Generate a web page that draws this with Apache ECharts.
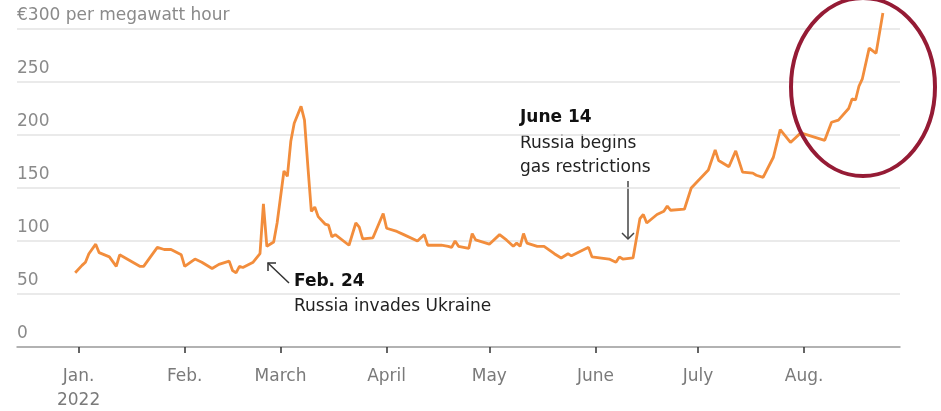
<!DOCTYPE html>
<html>
<head>
<meta charset="utf-8">
<script src="https://cdn.jsdelivr.net/npm/echarts@6/dist/echarts.min.js"></script>
<style>html,body{margin:0;padding:0;background:#fff}#c{width:941px;height:411px}</style>
</head>
<body>
<div id="c"></div>
<script>
var dates = ['2021-12-31','2022-01-02','2022-01-03','2022-01-04','2022-01-06','2022-01-07','2022-01-10','2022-01-12','2022-01-13','2022-01-19','2022-01-20','2022-01-24','2022-01-26','2022-01-28','2022-01-31',
'2022-02-01','2022-02-04','2022-02-06','2022-02-09','2022-02-11','2022-02-14','2022-02-15','2022-02-16','2022-02-17','2022-02-18','2022-02-21','2022-02-23','2022-02-24','2022-02-25','2022-02-27','2022-02-28',
'2022-03-02','2022-03-03','2022-03-04','2022-03-05','2022-03-07','2022-03-08','2022-03-09','2022-03-10','2022-03-11','2022-03-12','2022-03-14','2022-03-15','2022-03-16','2022-03-17','2022-03-21','2022-03-23','2022-03-24','2022-03-25','2022-03-28','2022-03-31',
'2022-04-01','2022-04-04','2022-04-06','2022-04-10','2022-04-12','2022-04-13','2022-04-17','2022-04-19','2022-04-20','2022-04-21','2022-04-22','2022-04-25','2022-04-26','2022-04-27',
'2022-05-01','2022-05-04','2022-05-06','2022-05-08','2022-05-09','2022-05-10','2022-05-11','2022-05-12','2022-05-15','2022-05-17','2022-05-20','2022-05-22','2022-05-24','2022-05-25','2022-05-30','2022-05-31',
'2022-06-05','2022-06-07','2022-06-08','2022-06-09','2022-06-12','2022-06-14','2022-06-15','2022-06-16','2022-06-19','2022-06-21','2022-06-22','2022-06-23','2022-06-27','2022-06-29',
'2022-07-04','2022-07-06','2022-07-07','2022-07-10','2022-07-12','2022-07-14','2022-07-17','2022-07-18','2022-07-20','2022-07-23','2022-07-25','2022-07-28','2022-07-31',
'2022-08-07','2022-08-09','2022-08-11','2022-08-14','2022-08-15','2022-08-16','2022-08-17','2022-08-18','2022-08-20','2022-08-22','2022-08-24'];
var prices = [70,77,80,88,97,89,85,76,87,76,76,94,92,92,87,
76,83,80,74,78,81,72,70,76,75,80,88,135,95,99,117,
166,161,194,211,227,214,170,128,132,123,116,115,104,106,96,117,113,102,103,126,
112,109,106,100,106,96,96,95,94,100,95,93,107,101,
97,106,101,95,98,95,107,98,95,95,88,84,88,86,94,85,
83,80,85,83,84,121,125,117,125,128,133,129,130,150,
167,186,176,170,185,165,164,162,160,179,205,193,202,
195,212,214,225,234,233,246,253,282,277,315];
var monthTicks = ['2022-01-01','2022-02-01','2022-03-01','2022-04-01','2022-05-01','2022-06-01','2022-07-01','2022-08-01'];
var monthLabels = ['Jan.\n2022','Feb.','March','April','May','June','July','Aug.'];
var yTicks = [0,50,100,150,200,250,300];

function ts(s){var p=s.split('-');return Date.UTC(+p[0],+p[1]-1,+p[2]);}
var tickVals = monthTicks.map(ts);
var seriesData = dates.map(function(d,i){return [ts(d), prices[i]];});

var chart = echarts.init(document.getElementById('c'), null, {renderer:'canvas'});
var FONT = 'DejaVu Sans';
chart.setOption({
  animation:false,
  grid:{left:17,right:41,top:29,bottom:64,containLabel:false,outerBoundsMode:'none'},
  xAxis:{
    type:'value',
    min:ts('2021-12-14'), max:ts('2022-08-29'),
    axisLine:{show:true,lineStyle:{color:'#a0a0a0',width:1.5}},
    axisTick:{show:true,length:6,lineStyle:{color:'#333',width:1.5},customValues:tickVals},
    axisLabel:{customValues:tickVals,color:'#7a7a7a',fontFamily:FONT,fontSize:17,lineHeight:24,margin:18,
      showMinLabel:true,showMaxLabel:true,
      formatter:function(v){var i=tickVals.indexOf(v);return i>=0?monthLabels[i]:'';}},
    splitLine:{show:false}
  },
  yAxis:{
    type:'value',min:0,max:300,interval:50,
    axisLine:{show:false},axisTick:{show:false},
    splitLine:{show:true,lineStyle:{color:'#e3e3e3',width:1.5}},
    axisLabel:{inside:true,margin:0,color:'#8a8a8a',fontFamily:FONT,fontSize:17,verticalAlign:'bottom',padding:[0,0,5,0],
      formatter:function(v){return v===300?'€300 per megawatt hour':String(v);}}
  },
  series:[{
    type:'line',data:seriesData,showSymbol:false,symbol:'none',clip:false,
    lineStyle:{color:'#f28d3c',width:2.8},z:5
  }],
  graphic:[
    {type:'text',left:294,top:273,style:{text:'Feb. 24',fontFamily:FONT,fontSize:17,fontWeight:'bold',fill:'#111'}},
    {type:'text',left:294,top:298,style:{text:'Russia invades Ukraine',fontFamily:FONT,fontSize:17,fill:'#222'}},
    {type:'line',shape:{x1:289,y1:283,x2:268,y2:263},style:{stroke:'#333',lineWidth:1.5}},
    {type:'polyline',shape:{points:[[268,271],[268,263],[276,263]]},style:{stroke:'#333',lineWidth:1.5,fill:null}},
    {type:'text',left:520,top:109,style:{text:'June 14',fontFamily:FONT,fontSize:17,fontWeight:'bold',fill:'#111'}},
    {type:'text',left:520,top:135,style:{text:'Russia begins',fontFamily:FONT,fontSize:17,fill:'#222'}},
    {type:'text',left:520,top:159,style:{text:'gas restrictions',fontFamily:FONT,fontSize:17,fill:'#222'}},
    {type:'line',shape:{x1:628,y1:181,x2:628,y2:239},style:{stroke:'#444',lineWidth:1.5}},
    {type:'polyline',shape:{points:[[622,233],[628,239],[634,233]]},style:{stroke:'#444',lineWidth:1.5,fill:null}},
    {type:'ellipse',shape:{cx:863,cy:87,rx:72,ry:89},style:{stroke:'#951b35',lineWidth:4,fill:null},z:10}
  ]
});
</script>
</body>
</html>
